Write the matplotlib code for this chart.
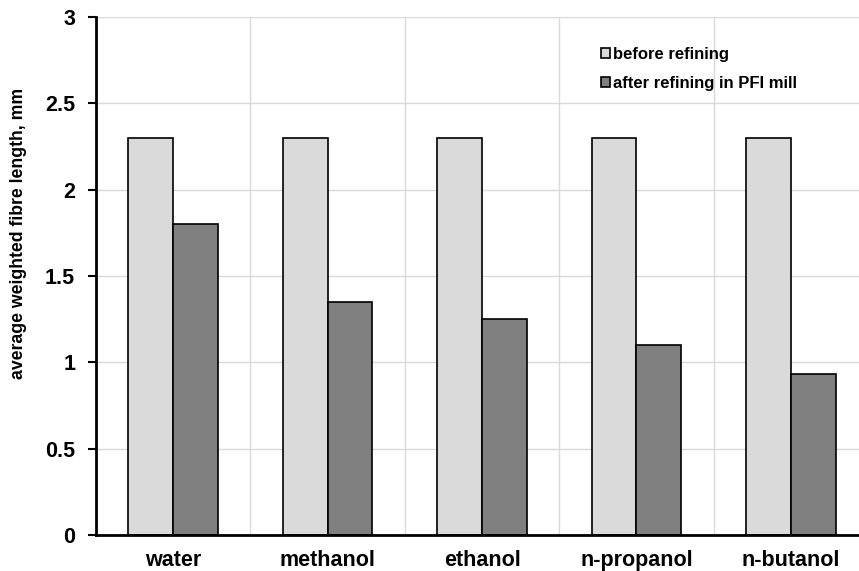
import matplotlib.pyplot as plt
import numpy as np

plt.rcParams['font.family'] = ['Liberation Sans', 'DejaVu Sans']
plt.rcParams['font.weight'] = 'bold'

solvents = ['water', 'methanol', 'ethanol', 'n-propanol', 'n-butanol']
before = [2.3, 2.3, 2.3, 2.3, 2.3]
after = [1.8, 1.35, 1.25, 1.1, 0.93]
series_names = ['before refining', 'after refining in PFI mill']

fig = plt.figure(figsize=(8.59, 5.71), dpi=100)
ax = fig.add_axes([0.1118, 0.063, 0.8987, 0.907])

x = np.arange(len(solvents))
w = 0.29
ax.bar(x - w / 2, before, w, color='#dadada', edgecolor='black', linewidth=1.2,
       label=series_names[0], zorder=3)
ax.bar(x + w / 2, after, w, color='#808080', edgecolor='black', linewidth=1.2,
       label=series_names[1], zorder=3)

ax.set_xlim(-0.5, len(solvents) - 0.5)
ax.set_ylim(0, 3)
ax.set_yticks(np.arange(0, 3.01, 0.5))
ax.set_yticklabels(['0', '0.5', '1', '1.5', '2', '2.5', '3'])
ax.set_xticks(x)
ax.set_xticklabels(solvents)
ax.tick_params(axis='y', labelsize=15.5, width=1.5, length=6, pad=9)
ax.tick_params(axis='x', labelsize=15.5, length=0, pad=11)

# vertical grid between categories, horizontal at ticks
ax.set_xticks(np.arange(0.5, len(solvents) - 0.5, 1), minor=True)
ax.grid(axis='y', which='major', color='#d9d9d9', linewidth=1, zorder=0)
ax.grid(axis='x', which='minor', color='#d9d9d9', linewidth=1, zorder=0)
ax.tick_params(axis='x', which='minor', length=0)

for s in ['top', 'right']:
    ax.spines[s].set_visible(False)
for s in ['left', 'bottom']:
    ax.spines[s].set_linewidth(2)
ax.spines['left'].set_zorder(4)
ax.spines['bottom'].set_zorder(4)

ax.set_ylabel('average weighted fibre length, mm', fontsize=12.7, fontweight='bold')
ax.yaxis.set_label_coords(-0.09, 0.583)

ax.legend(loc='upper left', bbox_to_anchor=(0.654, 0.943), frameon=False,
          handlelength=0.55, handleheight=0.55, handletextpad=0.2, labelspacing=0.85,
          borderpad=0, borderaxespad=0, prop={'weight': 'bold', 'size': 12})

fig.savefig('out.png', dpi=100)
